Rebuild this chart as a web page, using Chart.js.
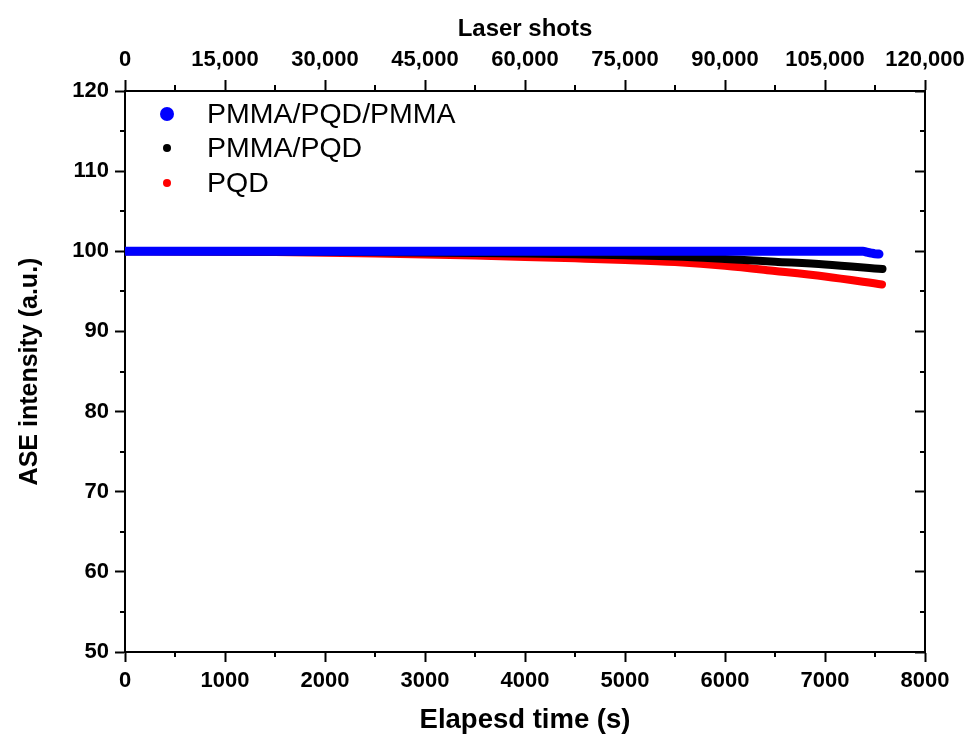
<!DOCTYPE html>
<html>
<head>
<meta charset="utf-8">
<script src="https://cdn.jsdelivr.net/npm/chart.js@4"></script>
<style>
  html, body { margin: 0; padding: 0; background: #fff; }
  #wrap { width: 966px; height: 737px; }
</style>
</head>
<body>
<div id="wrap"><canvas id="grafica" width="966" height="737"></canvas></div>
<script>
// valores
const tiempoAzul = [0, 1000, 2000, 3000, 4000, 5000, 6000, 7000, 7380, 7420, 7460, 7500, 7540];
const valoresAzul = [100, 100, 100, 100, 100, 100, 100, 100, 100, 99.9, 99.78, 99.68, 99.65];

const tiempoNegro = [0, 1000, 2000, 3000, 4000, 4500, 5000, 5500, 6000, 6500, 7000, 7575];
const valoresNegro = [100, 99.98, 99.93, 99.85, 99.72, 99.62, 99.5, 99.35, 99.05, 98.7, 98.35, 97.8];

const tiempoRojo = [0, 500, 1000, 1500, 2000, 2500, 3000, 3500, 4000, 4500, 5000, 5500, 6000, 6500, 7000, 7570];
const valoresRojo = [100, 99.98, 99.95, 99.9, 99.82, 99.72, 99.6, 99.46, 99.3, 99.12, 98.92, 98.65, 98.2, 97.55, 96.85, 95.85];

const etiquetas = ['PMMA/PQD/PMMA', 'PMMA/PQD', 'PQD'];
const colores = ['#0000ff', '#000000', '#ff0000'];
const radiosLeyenda = [7, 4, 4];

const FUENTE = "'Liberation Sans', Arial, sans-serif";

function puntos(tiempos, valores) {
    return tiempos.map((t, i) => ({ x: t, y: valores[i] }));
}

// leyenda y marcas menores dibujadas a mano
const extras = {
    id: 'extras',
    afterDraw(chart) {
        const ctx = chart.ctx;
        const area = chart.chartArea;
        const s = chart.scales;
        ctx.save();
        ctx.strokeStyle = '#000';
        ctx.lineWidth = 2;
        ctx.beginPath();
        for (let v = 500; v < 8000; v += 1000) {
            const px = Math.round(s.x.getPixelForValue(v));
            ctx.moveTo(px, area.bottom); ctx.lineTo(px, area.bottom + 5);
        }
        for (let v = 7500; v < 120000; v += 15000) {
            const px = Math.round(s.xTop.getPixelForValue(v));
            ctx.moveTo(px, area.top); ctx.lineTo(px, area.top - 6);
        }
        for (let v = 55; v < 120; v += 10) {
            const py = Math.round(s.y.getPixelForValue(v));
            ctx.moveTo(area.left, py); ctx.lineTo(area.left - 5, py);
            ctx.moveTo(area.right, py); ctx.lineTo(area.right - 5, py);
        }
        ctx.stroke();

        // leyenda
        ctx.font = '28.5px ' + FUENTE;
        ctx.textBaseline = 'middle';
        ctx.textAlign = 'left';
        const filas = [114, 148, 183];
        chart.data.datasets.forEach((ds, i) => {
            const y = filas[i];
            ctx.fillStyle = ds.borderColor;
            ctx.beginPath();
            ctx.arc(area.left + 42, y, radiosLeyenda[i], 0, Math.PI * 2);
            ctx.fill();
            ctx.fillStyle = '#000';
            ctx.fillText(ds.label, area.left + 82, y + 1);
        });
        ctx.restore();
    }
};

const fuenteTicks = { family: FUENTE, size: 22, weight: 'bold' };

function sinRelleno(s) {
    s.paddingLeft = 0; s.paddingRight = 0; s.paddingTop = 0; s.paddingBottom = 0;
}

const ctx = document.getElementById('grafica').getContext('2d');
new Chart(ctx, {
    type: 'line',
    data: {
        datasets: [
            { label: etiquetas[0], data: puntos(tiempoAzul, valoresAzul), borderColor: colores[0], borderWidth: 9 },
            { label: etiquetas[1], data: puntos(tiempoNegro, valoresNegro), borderColor: colores[1], borderWidth: 8 },
            { label: etiquetas[2], data: puntos(tiempoRojo, valoresRojo), borderColor: colores[2], borderWidth: 8 }
        ]
    },
    options: {
        responsive: false,
        animation: false,
        devicePixelRatio: 1,
        elements: {
            point: { radius: 0, hoverRadius: 0 },
            line: { cubicInterpolationMode: 'monotone', borderCapStyle: 'round', borderJoinStyle: 'round', fill: false }
        },
        layout: { padding: 0 },
        plugins: { legend: { display: false }, tooltip: { enabled: false } },
        scales: {
            x: {
                type: 'linear', position: 'bottom', min: 0, max: 8000,
                ticks: { stepSize: 1000, color: '#000', font: fuenteTicks, padding: 6, maxRotation: 0, autoSkip: false,
                         callback: v => String(v) },
                grid: { drawOnChartArea: false, tickLength: 10, tickWidth: 2, tickColor: '#000' },
                border: { color: '#000', width: 2 },
                title: { display: true, text: 'Elapesd time (s)', color: '#000',
                         font: { family: FUENTE, size: 27.5, weight: 'bold' }, padding: { top: 0, bottom: 0 } },
                afterFit: s => { s.height = 85; sinRelleno(s); }
            },
            xTop: {
                type: 'linear', position: 'top', axis: 'x', min: 0, max: 120000,
                ticks: { stepSize: 15000, color: '#000', font: fuenteTicks, padding: 7, maxRotation: 0, autoSkip: false,
                         callback: v => v.toLocaleString('en-US') },
                grid: { drawOnChartArea: false, tickLength: 11, tickWidth: 2, tickColor: '#000' },
                border: { color: '#000', width: 2 },
                title: { display: true, text: 'Laser shots', color: '#000',
                         font: { family: FUENTE, size: 24, weight: 'bold' }, padding: { top: 15, bottom: 0 } },
                afterFit: s => { s.height = 91; sinRelleno(s); }
            },
            y: {
                type: 'linear', position: 'left', min: 50, max: 120, z: 1,
                ticks: { stepSize: 10, color: '#000', font: fuenteTicks, padding: 6 },
                grid: { drawOnChartArea: false, tickLength: 10, tickWidth: 2, tickColor: '#000' },
                border: { color: '#000', width: 2 },
                title: { display: true, text: 'ASE intensity (a.u.)', color: '#000',
                         font: { family: FUENTE, size: 25, weight: 'bold' }, padding: { top: 15, bottom: 0 } },
                afterFit: s => { s.width = 125; sinRelleno(s); }
            },
            yR: {
                type: 'linear', position: 'right', axis: 'y', min: 50, max: 120, z: 1,
                ticks: { stepSize: 10, display: false },
                grid: { drawOnChartArea: false, tickLength: -10, tickWidth: 2, tickColor: '#000' },
                border: { color: '#000', width: 2 },
                afterFit: s => { s.width = 41; sinRelleno(s); }
            }
        }
    },
    plugins: [extras]
});
</script>
</body>
</html>
